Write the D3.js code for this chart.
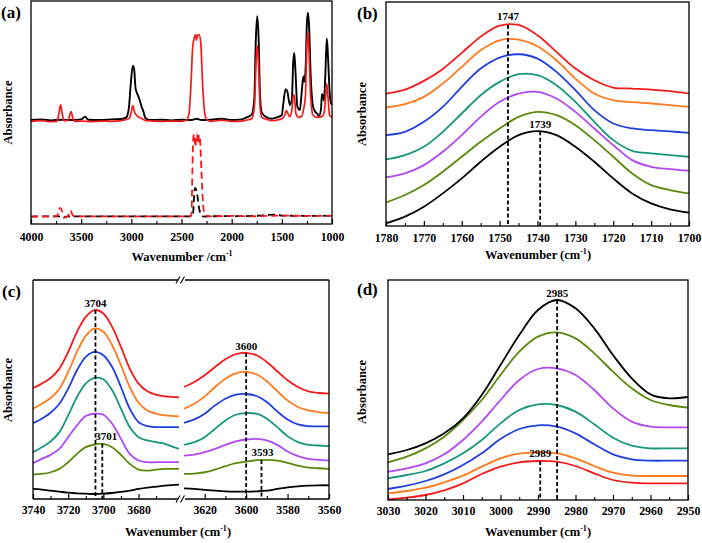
<!DOCTYPE html>
<html><head><meta charset="utf-8">
<script src="https://cdn.jsdelivr.net/npm/d3@7"></script>
<style>
body{margin:0;background:#fff;}
svg text{font-family:"Liberation Serif","Times New Roman",serif;font-weight:bold;fill:#000;}
</style></head><body>
<svg id="chart" width="702" height="543"></svg>
<script>
// ---------- DATA ----------
// (a) full spectra: [wavenumber, absorbance a.u.]
const aBlackSolid = [[4000,310],[3900,312],[3800,309],[3700,311],[3600,310],[3500,312],[3460,320],[3430,311],[3300,310],[3200,312],[3100,313],[3050,318],[3025,345],[3005,420],[2985,472],[2972,462],[2958,405],[2940,388],[2920,372],[2900,352],[2880,336],[2860,316],[2820,310],[2700,311],[2600,309],[2500,311],[2400,310],[2350,314],[2300,310],[2200,311],[2100,314],[2000,310],[1900,312],[1850,318],[1800,326],[1775,370],[1758,560],[1745,620],[1732,560],[1717,380],[1700,332],[1650,318],[1600,314],[1550,318],[1500,325],[1485,360],[1462,402],[1445,395],[1420,355],[1400,372],[1387,480],[1376,510],[1365,460],[1345,350],[1320,340],[1300,400],[1285,440],[1275,425],[1262,470],[1250,600],[1240,630],[1230,600],[1212,440],[1190,352],[1170,336],[1150,330],[1130,322],[1110,342],[1100,388],[1090,380],[1080,368],[1067,440],[1052,553],[1040,500],[1025,400],[1010,358],[1000,358]];
const aRedSolid = [[4000,306],[3900,308],[3800,305],[3740,307],[3722,330],[3705,355],[3690,330],[3670,308],[3630,308],[3612,328],[3600,335],[3585,318],[3560,306],[3500,307],[3400,305],[3300,307],[3200,306],[3100,308],[3020,315],[3000,335],[2985,353],[2970,335],[2950,325],[2900,315],[2850,308],[2700,306],[2600,307],[2500,306],[2450,310],[2425,330],[2405,420],[2388,530],[2372,555],[2360,565],[2350,548],[2340,562],[2325,565],[2308,540],[2290,420],[2268,330],[2245,310],[2200,306],[2100,310],[2000,306],[1900,307],[1850,310],[1800,314],[1773,350],[1757,480],[1745,533],[1733,480],[1717,350],[1700,318],[1650,312],[1600,308],[1550,310],[1500,314],[1470,325],[1455,338],[1440,330],[1420,320],[1400,340],[1385,386],[1375,380],[1360,330],[1335,318],[1300,322],[1285,340],[1265,380],[1252,520],[1240,573],[1230,520],[1213,380],[1190,325],[1150,318],[1100,320],[1080,330],[1063,380],[1052,418],[1040,380],[1025,325],[1010,320],[1000,322]];
const aRedDashed = [[4000,22],[3900,23],[3800,22],[3740,24],[3720,44],[3705,48],[3690,38],[3670,24],[3650,20],[3620,30],[3605,40],[3590,30],[3570,23],[3400,23],[3000,23],[2500,23],[2410,23],[2400,30],[2392,150],[2382,260],[2372,268],[2362,230],[2352,262],[2345,268],[2335,240],[2325,265],[2315,250],[2300,150],[2285,60],[2270,30],[2250,24],[2200,23],[2000,24],[1800,23],[1500,25],[1200,24],[1000,24]];
const aBlackDashed = [[4000,22],[3800,23],[3700,23],[3680,18],[3660,20],[3640,23],[3400,23],[3000,23],[2500,23],[2400,23],[2385,30],[2375,80],[2365,108],[2350,100],[2335,70],[2320,40],[2300,28],[2280,22],[2200,23],[1800,24],[1550,28],[1500,25],[1200,24],[1000,25]];
const aTicks = [4000,3500,3000,2500,2000,1500,1000];

// (b) C=O region
const bWavenumbers = [1780,1775,1770,1765,1760,1755,1750,1745,1740,1735,1730,1725,1720,1715,1710,1705,1700];
const bRed    = [398,410,436,472,520,569,602,604,573,523,473,438,416,413,410,405,398];
const bOrange = [356,366,388,428,478,528,558,560,540,498,443,398,378,372,368,363,358];
const bBlue   = [273,283,313,358,418,473,506,516,503,463,408,348,308,293,288,284,280];
const bTeal   = [200,213,238,283,338,393,433,456,453,423,373,313,258,226,218,213,208];
const bPurple = [146,158,183,223,273,328,373,398,403,383,343,293,243,198,178,171,166];
const bOlive  = [71,93,123,163,208,253,293,328,343,333,303,258,208,158,123,108,98];
const bBlack  = [8,28,58,98,143,193,238,273,285,273,238,193,143,98,68,50,40];
const bTicks = [1780,1770,1760,1750,1740,1730,1720,1710,1700];
const bPeakLabels = ["1747","1739"];
const bPeakPositions = [1747.8,1739.3];

// (c) O-H region (broken axis)
const cLeftWavenumbers = [3740,3735,3730,3725,3720,3715,3710,3705,3700,3695,3690,3685,3680,3675,3670,3665,3660,3657];
const cLeftRed    = [332,345,362,390,440,500,545,565,555,515,455,390,345,322,312,307,305,304];
const cLeftOrange = [270,285,302,330,380,440,488,510,500,460,400,335,288,265,255,250,248,247];
const cLeftBlue   = [227,240,258,285,330,385,425,440,430,395,335,270,230,218,215,215,215,215];
const cLeftTeal   = [140,155,172,200,250,305,345,362,358,325,270,215,185,175,170,165,155,150];
const cLeftPurple = [107,120,132,150,185,220,248,255,252,225,180,135,115,110,110,110,110,110];
const cLeftOlive  = [73,75,80,90,110,135,155,163,165,155,132,105,88,85,88,90,90,90];
const cLeftBlack  = [30,28,25,22,19,17,16,15,16,18,21,25,30,34,37,40,42,43];
const cRightWavenumbers = [3630,3625,3620,3615,3610,3605,3600,3595,3590,3585,3580,3575,3570,3565,3560];
const cRightRed    = [335,350,370,395,418,433,437,430,410,382,355,335,322,317,315];
const cRightOrange = [270,285,307,335,360,376,380,373,352,323,295,275,265,260,257];
const cRightBlue   = [228,238,255,280,300,312,314,308,290,262,238,223,218,217,217];
const cRightTeal   = [162,170,185,210,235,252,257,255,240,215,188,170,162,160,158];
const cRightPurple = [130,133,140,150,162,172,178,180,175,162,142,128,120,117,115];
const cRightOlive  = [75,76,80,88,98,107,112,116,117,115,108,100,94,92,90];
const cRightBlack  = [32,30,27,25,23,22,22,23,25,30,35,38,40,41,41];
const cLeftTicks = [3740,3720,3700,3680];
const cRightTicks = [3620,3600,3580,3560];
const cPeakLabels = ["3704","3701","3600","3593"];
const cPeakPositions = [3704.5,3700.6,3600,3592.6];

// (d) C-H region
const dWavenumbers = [3030,3025,3020,3015,3010,3005,3000,2995,2990,2985,2980,2975,2970,2965,2960,2955,2950];
const dBlack  = [137,150,170,200,245,315,405,495,570,600,575,515,435,365,317,305,309];
const dOlive  = [113,130,155,190,240,300,375,445,490,503,485,440,385,335,300,285,277];
const dPurple = [85,95,110,137,180,235,300,360,393,395,375,330,275,235,220,218,218];
const dTeal   = [65,75,87,110,140,180,230,270,287,285,265,227,187,163,155,155,155];
const dBlue   = [33,43,57,77,105,140,183,213,224,220,200,167,137,122,118,118,118];
const dOrange = [20,27,37,53,73,100,125,139,143,140,125,102,82,73,72,72,72];
const dRed    = [2,7,15,29,50,78,100,113,117,115,102,80,60,52,50,50,50];
const dTicks = [3030,3020,3010,3000,2990,2980,2970,2960,2950];
const dPeakLabels = ["2985","2989"];
const dPeakPositions = [2984.9,2989.4];

const seriesColors = {red:"#f41a1a",orange:"#ff7a1c",blue:"#1f3fe0",teal:"#17977c",purple:"#b148f2",olive:"#5a8a0c",black:"#000000"};

// ---------- DRAWING ----------
const svg = d3.select("#chart");
const smooth = d3.curveCatmullRom.alpha(0.5);

function frame(p){
  svg.append("rect").attr("x",p.l).attr("y",p.t).attr("width",p.r-p.l).attr("height",p.b-p.t)
    .attr("fill","none").attr("stroke","#000").attr("stroke-width",1.3);
}
function bottomAxis(x, y, majors, minors, pad){
  const g1 = svg.append("g").attr("transform",`translate(0,${y})`)
    .call(d3.axisBottom(x).tickValues(majors).tickSizeInner(-5).tickSizeOuter(0).tickPadding(pad).tickFormat(d3.format("d")));
  g1.select(".domain").remove();
  g1.selectAll("text").style("font-size","11.8px");
  g1.selectAll("line").attr("stroke-width",1.2);
  const g2 = svg.append("g").attr("transform",`translate(0,${y})`)
    .call(d3.axisBottom(x).tickValues(minors).tickSizeInner(-3).tickSizeOuter(0).tickFormat(""));
  g2.select(".domain").remove();
  g2.selectAll("line").attr("stroke-width",1.1);
}
function yTitle(x, y){
  svg.append("text").attr("transform",`translate(${x},${y}) rotate(-90)`).attr("text-anchor","middle")
    .style("font-size","12.5px").text("Absorbance");
}
function xTitle(x, y, paren){
  const t = svg.append("text").attr("x",x).attr("y",y).attr("text-anchor","middle").style("font-size","12.5px");
  if(paren){
    t.append("tspan").text("Wavenumber (cm");
    t.append("tspan").attr("dy",-5).style("font-size","8px").text("-1");
    t.append("tspan").attr("dy",5).text(")");
  } else {
    t.append("tspan").text("Wavenumber /cm");
    t.append("tspan").attr("dy",-5).style("font-size","8px").text("-1");
  }
}
function panelLabel(x,y,s){
  svg.append("text").attr("x",x).attr("y",y).style("font-size","17px").text(s);
}
function drawSeries(x, y, xs, ys, color, width, dash){
  const line = d3.line().x((d,i)=>x(xs[i])).y(d=>y(d)).curve(smooth);
  svg.append("path").datum(ys).attr("d",line).attr("fill","none").attr("stroke",color)
    .attr("stroke-width",width).attr("stroke-dasharray",dash||null).attr("stroke-linejoin","round");
}
function drawPairs(x, y, pts, color, width, dash){
  const line = d3.line().x(d=>x(d[0])).y(d=>y(d[1])).curve(d3.curveMonotoneX);
  svg.append("path").datum(pts).attr("d",line).attr("fill","none").attr("stroke",color)
    .attr("stroke-width",width).attr("stroke-dasharray",dash||null).attr("stroke-linejoin","round");
}
function peakMark(x, y, pos, top, bottom, label, dx, lift){
  svg.append("line").attr("x1",x(pos)).attr("x2",x(pos)).attr("y1",y(top)).attr("y2",bottom)
    .attr("stroke","#000").attr("stroke-width",1.8).attr("stroke-dasharray","4,2.5");
  svg.append("text").attr("x",x(pos)+dx).attr("y",y(top)-lift).attr("text-anchor","middle")
    .style("font-size","11px").text(label);
}

// ---- panel (a)
{
  const p = {l:31,r:332,t:1,b:224};
  const x = d3.scaleLinear().domain([4000,1000]).range([p.l,p.r]);
  const y = d3.scaleLinear().domain([0,665]).range([p.b,p.t]);
  drawPairs(x,y,aBlackDashed,"#000",1.8,"7,4");
  drawPairs(x,y,aRedDashed,"#f41a1a",1.8,"7,4");
  drawPairs(x,y,aBlackSolid,"#000",1.9);
  drawPairs(x,y,aRedSolid,"#f41a1a",1.7);
  frame(p);
  bottomAxis(x,p.b,aTicks,d3.range(3750,1000,-500),9);
  yTitle(12,(p.t+p.b)/2);
  xTitle(182,261,false);
  panelLabel(1,18,"(a)");
}
// ---- panel (b)
{
  const p = {l:386,r:689,t:2,b:226};
  const x = d3.scaleLinear().domain([1780,1700]).range([p.l,p.r]);
  const y = d3.scaleLinear().domain([0,673]).range([p.b,p.t]);
  const S = [[bRed,"red"],[bOrange,"orange"],[bBlue,"blue"],[bTeal,"teal"],[bPurple,"purple"],[bOlive,"olive"],[bBlack,"black"]];
  S.forEach(s=>drawSeries(x,y,bWavenumbers,s[0],seriesColors[s[1]],1.8));
  peakMark(x,y,bPeakPositions[0],d3.max(bRed),p.b,bPeakLabels[0],0,5);
  peakMark(x,y,bPeakPositions[1],d3.max(bBlack),p.b,bPeakLabels[1],0,3);
  frame(p);
  bottomAxis(x,p.b,bTicks,d3.range(1775,1700,-10),8);
  yTitle(366,(p.t+p.b)/2);
  xTitle(538,259,true);
  panelLabel(357,19,"(b)");
}
// ---- panel (c)
{
  const p = {l:33,r:329,t:280,b:499};
  const breakL = 179, breakR = 184;
  const xL = d3.scaleLinear().domain([3740,3657]).range([p.l,breakL]);
  const xR = d3.scaleLinear().domain([3630,3560]).range([breakR,p.r]);
  const y = d3.scaleLinear().domain([0,655]).range([p.b,p.t]);
  const L = [[cLeftRed,"red"],[cLeftOrange,"orange"],[cLeftBlue,"blue"],[cLeftTeal,"teal"],[cLeftPurple,"purple"],[cLeftOlive,"olive"],[cLeftBlack,"black"]];
  const R = [[cRightRed,"red"],[cRightOrange,"orange"],[cRightBlue,"blue"],[cRightTeal,"teal"],[cRightPurple,"purple"],[cRightOlive,"olive"],[cRightBlack,"black"]];
  L.forEach(s=>drawSeries(xL,y,cLeftWavenumbers,s[0],seriesColors[s[1]],1.8));
  R.forEach(s=>drawSeries(xR,y,cRightWavenumbers,s[0],seriesColors[s[1]],1.8));
  peakMark(xL,y,cPeakPositions[0],d3.max(cLeftRed),p.b,cPeakLabels[0],0,3);
  peakMark(xL,y,cPeakPositions[1],d3.max(cLeftOlive),p.b,cPeakLabels[1],4,4);
  peakMark(xR,y,cPeakPositions[2],d3.max(cRightRed),p.b,cPeakLabels[2],0,3);
  peakMark(xR,y,cPeakPositions[3],d3.max(cRightOlive),p.b,cPeakLabels[3],1,4);
  // frame with break
  const fr = svg.append("g").attr("stroke","#000").attr("stroke-width",1.3).attr("fill","none");
  [[p.l,p.t,breakL,p.t],[breakR,p.t,p.r,p.t],[p.l,p.b,breakL,p.b],[breakR,p.b,p.r,p.b],[p.l,p.t,p.l,p.b],[p.r,p.t,p.r,p.b]]
    .forEach(s=>fr.append("line").attr("x1",s[0]).attr("y1",s[1]).attr("x2",s[2]).attr("y2",s[3]));
  [p.t,p.b].forEach(yy=>{
    svg.append("rect").attr("x",breakL-1).attr("y",yy-4).attr("width",breakR-breakL+2).attr("height",8).attr("fill","#fff");
    [breakL-3,breakL+1.5].forEach(xx=>svg.append("line").attr("x1",xx).attr("y1",yy+3.5).attr("x2",xx+4).attr("y2",yy-3.5)
      .attr("stroke","#000").attr("stroke-width",1.1));
  });
  bottomAxis(xL,p.b,cLeftTicks,[3730,3710,3690,3670],6.5);
  bottomAxis(xR,p.b,cRightTicks,[3610,3590,3570],6.5);
  yTitle(12,390);
  xTitle(178,536,true);
  panelLabel(2,297,"(c)");
}
// ---- panel (d)
{
  const p = {l:388,r:688,t:280,b:500};
  const x = d3.scaleLinear().domain([3030,2950]).range([p.l,p.r]);
  const y = d3.scaleLinear().domain([0,660]).range([p.b,p.t]);
  const S = [[dRed,"red"],[dOrange,"orange"],[dBlue,"blue"],[dTeal,"teal"],[dPurple,"purple"],[dOlive,"olive"],[dBlack,"black"]];
  S.forEach(s=>drawSeries(x,y,dWavenumbers,s[0],seriesColors[s[1]],1.8));
  peakMark(x,y,dPeakPositions[0],d3.max(dBlack),p.b,dPeakLabels[0],0,3);
  peakMark(x,y,dPeakPositions[1],d3.max(dRed),p.b,dPeakLabels[1],0,4);
  frame(p);
  bottomAxis(x,p.b,dTicks,d3.range(3025,2950,-10),6.5);
  yTitle(366,392);
  xTitle(538,536,true);
  panelLabel(357,295,"(d)");
}
</script>
</body></html>
